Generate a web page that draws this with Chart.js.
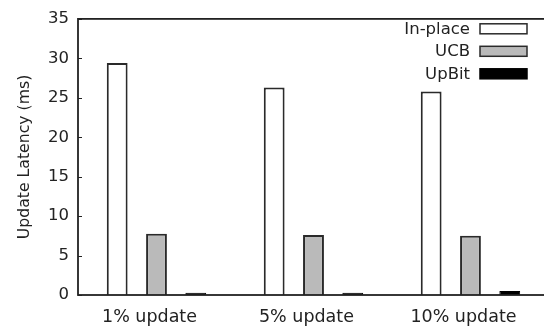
<!DOCTYPE html>
<html>
<head>
<meta charset="utf-8">
<script src="https://cdn.jsdelivr.net/npm/chart.js@4/dist/chart.umd.min.js"></script>
<style>
  html, body { margin: 0; padding: 0; background: #fff; overflow: hidden; }
  #wrap { width: 544px; height: 332px; overflow: hidden; }
  canvas { display: block; }
</style>
</head>
<body>
<div id="wrap"><canvas id="c" width="570" height="332"></canvas></div>
<script>
// Update workloads and measured latencies (ms)
const categories = ['1% update', '5% update', '10% update'];
const inPlace = [29.4, 26.3, 25.8];
const ucb = [7.75, 7.6, 7.5];
const upBit = [0.3, 0.3, 0.5];
const yTicks = [0, 5, 10, 15, 20, 25, 30, 35];

const FONT = 'DejaVu Sans';
const INK = '#222';

const toPoints = arr => arr.map((v, i) => ({ x: i, y: v }));

// Plot frame plus short inward ticks on the y axis
const framePlugin = {
  id: 'frame',
  afterDatasetsDraw(chart) {
    const { ctx, chartArea: a, scales } = chart;
    ctx.save();
    ctx.strokeStyle = INK;
    ctx.lineWidth = 1.8;
    ctx.strokeRect(a.left, a.top, a.right - a.left, a.bottom - a.top);
    ctx.lineWidth = 1;
    yTicks.forEach(t => {
      const y = Math.round(scales.y.getPixelForValue(t)) + 0.5;
      ctx.beginPath();
      ctx.moveTo(a.left, y);
      ctx.lineTo(a.left + 4, y);
      ctx.stroke();
    });
    ctx.restore();
  }
};

// Key in the top-right corner: label text followed by a swatch
const keyPlugin = {
  id: 'key',
  afterDraw(chart) {
    const { ctx } = chart;
    const textRight = 470, boxLeft = 480, boxW = 47, boxH = 10;
    const rows = [28.8, 51.3, 73.8];
    ctx.save();
    ctx.font = '16.5px "' + FONT + '"';
    ctx.textAlign = 'right';
    ctx.textBaseline = 'middle';
    chart.data.datasets.forEach((ds, i) => {
      const cy = rows[i];
      ctx.fillStyle = INK;
      ctx.fillText(ds.label, textRight, cy + 0.5);
      ctx.fillStyle = ds.backgroundColor;
      ctx.fillRect(boxLeft, cy - boxH / 2, boxW, boxH);
      ctx.strokeStyle = ds.borderColor;
      ctx.lineWidth = 1.5;
      ctx.strokeRect(boxLeft, cy - boxH / 2, boxW, boxH);
    });
    ctx.restore();
  }
};

new Chart(document.getElementById('c'), {
  type: 'bar',
  data: {
    datasets: [
      { label: 'In-place', data: toPoints(inPlace), backgroundColor: '#ffffff', borderColor: '#2a2a2a', borderWidth: 2 },
      { label: 'UCB', data: toPoints(ucb), backgroundColor: '#bababa', borderColor: '#2a2a2a', borderWidth: 2 },
      { label: 'UpBit', data: toPoints(upBit), backgroundColor: '#000000', borderColor: '#000', borderWidth: 1 }
    ]
  },
  options: {
    responsive: false,
    animation: false,
    devicePixelRatio: 1,
    categoryPercentage: 0.751,
    barPercentage: 0.53,
    layout: { padding: { top: 13, right: 0, left: 0, bottom: 0 } },
    plugins: { legend: { display: false }, tooltip: { enabled: false } },
    scales: {
      x: {
        type: 'linear',
        offset: false,
        min: -0.5,
        max: 2.634,
        grid: { display: false, drawTicks: false, offset: false },
        border: { display: false },
        afterBuildTicks: s => { s.ticks = categories.map((_, i) => ({ value: i })); },
        afterFit: s => { s.height = 37; },
        ticks: {
          autoSkip: false,
          maxRotation: 0,
          padding: 12,
          labelOffset: -7,
          color: INK,
          font: { family: FONT, size: 17.5 },
          callback: v => categories[v]
        }
      },
      y: {
        min: 0,
        max: 35,
        grid: { display: false, drawTicks: false },
        border: { display: false },
        afterBuildTicks: s => { s.ticks = yTicks.map(v => ({ value: v })); },
        afterFit: s => { s.width = 78; },
        ticks: {
          padding: 9,
          color: INK,
          font: { family: FONT, size: 16.5 }
        },
        title: {
          display: true,
          text: 'Update Latency (ms)',
          color: INK,
          font: { family: FONT, size: 15.7 },
          padding: { top: 16, bottom: 0 }
        }
      }
    }
  },
  plugins: [framePlugin, keyPlugin]
});
</script>
</body>
</html>
